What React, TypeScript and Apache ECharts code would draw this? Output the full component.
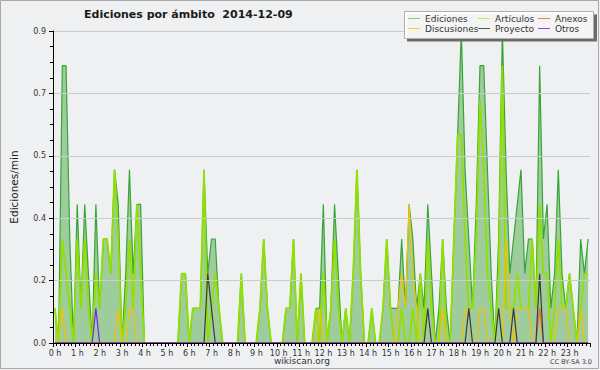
import React, { useEffect, useRef } from "react";
import * as echarts from "echarts";

// 10-minute bins, edits per minute
const EDICIONES = [
  0.1, 0, 0.8, 0.8, 0.3, 0, 0.4, 0.1, 0.4, 0.2, 0, 0.4,
  0.1, 0.3, 0.3, 0.2, 0.5, 0.4, 0, 0.2, 0.5, 0.2, 0.4, 0.4,
  0, 0, 0, 0, 0, 0, 0, 0, 0, 0, 0.2, 0.2,
  0, 0.1, 0.1, 0.1, 0.5, 0.2, 0.3, 0.3, 0.1, 0, 0, 0,
  0, 0, 0.2, 0, 0, 0, 0, 0.1, 0.3, 0.1, 0, 0,
  0, 0, 0.1, 0.1, 0.3, 0, 0.2, 0, 0, 0, 0.1, 0.1,
  0.4, 0, 0.1, 0.4, 0.2, 0, 0.1, 0, 0.2, 0.5, 0.2, 0,
  0, 0.1, 0, 0, 0.1, 0.3, 0.1, 0.1, 0.1, 0.3, 0.1, 0.4,
  0.3, 0.1, 0.2, 0.1, 0.4, 0.2, 0, 0.1, 0.3, 0.1, 0, 0.3,
  0.6, 0.9, 0.5, 0.3, 0.1, 0.4, 0.8, 0.8, 0.5, 0.2, 0, 0.3,
  0.9, 0.5, 0.2, 0.3, 0.4, 0.5, 0.2, 0.3, 0.3, 0.1, 0.8, 0.3,
  0.4, 0.1, 0.2, 0.5, 0.2, 0.1, 0.2, 0.1, 0, 0.3, 0.2, 0.3,
];

const ARTICULOS = [
  0.1, 0, 0.3, 0.2, 0.1, 0, 0.3, 0.1, 0.3, 0.1, 0, 0.2,
  0.1, 0.3, 0.3, 0.2, 0.5, 0.3, 0, 0.1, 0.3, 0.1, 0.4, 0.2,
  0, 0, 0, 0, 0, 0, 0, 0, 0, 0, 0.2, 0.2,
  0, 0.1, 0.1, 0.1, 0.5, 0, 0.1, 0.2, 0.1, 0, 0, 0,
  0, 0, 0.2, 0, 0, 0, 0, 0.1, 0.3, 0.1, 0, 0,
  0, 0, 0.1, 0.1, 0.3, 0, 0.2, 0, 0, 0, 0.1, 0,
  0.2, 0, 0.1, 0.3, 0.1, 0, 0.1, 0, 0.2, 0.5, 0.2, 0,
  0, 0.1, 0, 0, 0.1, 0.3, 0.1, 0, 0, 0.1, 0, 0,
  0.1, 0, 0.2, 0, 0.3, 0.1, 0, 0, 0.3, 0, 0, 0.3,
  0.6, 0.6, 0.3, 0.1, 0.1, 0.3, 0.7, 0.5, 0.2, 0.1, 0, 0.2,
  0.8, 0.1, 0.1, 0.1, 0.2, 0.1, 0.1, 0.1, 0.3, 0.1, 0.4, 0.2,
  0.2, 0, 0.1, 0.3, 0.1, 0.1, 0.2, 0.1, 0, 0.1, 0.2, 0.2,
];

const DISCUSIONES = [
  0, 0, 0.1, 0, 0, 0, 0, 0, 0, 0, 0, 0,
  0, 0, 0, 0, 0, 0.1, 0, 0, 0.1, 0.1, 0, 0,
  0, 0, 0, 0, 0, 0, 0, 0, 0, 0, 0, 0,
  0, 0, 0, 0, 0, 0, 0, 0, 0, 0, 0, 0,
  0, 0, 0, 0, 0, 0, 0, 0, 0, 0, 0, 0,
  0, 0, 0, 0, 0, 0, 0, 0, 0, 0, 0, 0.1,
  0, 0, 0, 0, 0, 0, 0, 0, 0, 0, 0, 0,
  0, 0, 0, 0, 0, 0, 0, 0, 0.1, 0.2, 0.1, 0.4,
  0.2, 0.1, 0, 0, 0, 0, 0, 0, 0.1, 0, 0, 0,
  0, 0, 0.1, 0.1, 0, 0, 0.1, 0.1, 0, 0, 0, 0,
  0, 0.3, 0.1, 0, 0.1, 0.1, 0.1, 0.1, 0, 0, 0, 0,
  0, 0, 0, 0.1, 0.1, 0.1, 0, 0, 0, 0.1, 0, 0,
];

const PROYECTO = [
  0, 0, 0, 0, 0, 0, 0, 0, 0, 0, 0, 0,
  0, 0, 0, 0, 0, 0, 0, 0, 0, 0, 0, 0,
  0, 0, 0, 0, 0, 0, 0, 0, 0, 0, 0, 0,
  0, 0, 0, 0, 0, 0.2, 0.1, 0, 0, 0, 0, 0,
  0, 0, 0, 0, 0, 0, 0, 0, 0, 0, 0, 0,
  0, 0, 0, 0, 0, 0, 0, 0, 0, 0, 0, 0,
  0, 0, 0, 0, 0, 0, 0, 0, 0, 0, 0, 0,
  0, 0, 0, 0, 0, 0, 0, 0, 0, 0, 0, 0,
  0, 0, 0, 0, 0.1, 0, 0, 0, 0, 0, 0, 0,
  0, 0, 0, 0.1, 0, 0, 0, 0, 0, 0, 0, 0.1,
  0, 0, 0, 0.1, 0, 0, 0, 0, 0, 0, 0.2, 0,
  0, 0, 0, 0, 0, 0, 0, 0, 0, 0, 0, 0,
];

const ANEXOS = [
  0, 0, 0, 0, 0, 0, 0, 0, 0, 0, 0, 0,
  0, 0, 0, 0, 0, 0, 0, 0, 0, 0, 0, 0,
  0, 0, 0, 0, 0, 0, 0, 0, 0, 0, 0, 0,
  0, 0, 0, 0, 0, 0, 0, 0, 0, 0, 0, 0,
  0, 0, 0, 0, 0, 0, 0, 0, 0, 0, 0, 0,
  0, 0, 0, 0, 0, 0, 0, 0, 0, 0, 0, 0,
  0, 0, 0, 0, 0, 0, 0, 0, 0, 0, 0, 0,
  0, 0, 0, 0, 0, 0, 0, 0, 0, 0, 0, 0,
  0, 0, 0, 0, 0, 0, 0, 0, 0, 0, 0, 0,
  0, 0, 0, 0, 0, 0, 0, 0, 0, 0, 0, 0,
  0, 0, 0, 0, 0, 0, 0, 0, 0, 0, 0.1, 0,
  0, 0, 0, 0, 0, 0, 0, 0, 0, 0, 0, 0,
];

const OTROS = [
  0, 0, 0, 0, 0, 0, 0, 0, 0, 0, 0, 0.1,
  0, 0, 0, 0, 0, 0, 0, 0, 0, 0, 0, 0,
  0, 0, 0, 0, 0, 0, 0, 0, 0, 0, 0, 0,
  0, 0, 0, 0, 0, 0, 0, 0, 0, 0, 0, 0,
  0, 0, 0, 0, 0, 0, 0, 0, 0, 0, 0, 0,
  0, 0, 0, 0, 0, 0, 0, 0, 0, 0, 0, 0,
  0, 0, 0, 0, 0, 0, 0, 0, 0, 0, 0, 0,
  0, 0, 0, 0, 0, 0, 0, 0, 0, 0, 0, 0,
  0, 0, 0, 0, 0, 0, 0, 0, 0, 0, 0, 0,
  0, 0, 0, 0, 0, 0, 0, 0, 0, 0, 0, 0,
  0, 0, 0, 0, 0, 0, 0, 0, 0, 0, 0, 0,
  0, 0, 0, 0, 0, 0, 0, 0, 0, 0, 0, 0,
];

const HOUR_LABELS = [
  "0 h", "1 h", "2 h", "3 h", "4 h", "5 h", "6 h", "7 h", "8 h", "9 h", "10 h", "11 h",
  "12 h", "13 h", "14 h", "15 h", "16 h", "17 h", "18 h", "19 h", "20 h", "21 h", "22 h", "23 h",
];

const TITLE = "Ediciones por ámbito  2014-12-09";
const FONT = "'DejaVu Sans', 'Liberation Sans', sans-serif";

// legend entries: name, legend colour, column left, row top
const LEGEND = [
  { name: "Ediciones", color: "#7fcf7f", left: 408, top: 14 },
  { name: "Artículos", color: "#c4ee55", left: 478, top: 14 },
  { name: "Anexos", color: "#f08050", left: 538, top: 14 },
  { name: "Discusiones", color: "#f5cc40", left: 408, top: 24 },
  { name: "Proyecto", color: "#555555", left: 478, top: 24 },
  { name: "Otros", color: "#9040f0", left: 538, top: 24 },
];

export default function App() {
  const ref = useRef<HTMLDivElement>(null);
  useEffect(() => {
    if (!ref.current) return;
    const chart = echarts.init(ref.current, undefined, { renderer: "svg" });
    const toPoints = (arr: number[]) => arr.map((v, i) => [(i + 0.5) / 6, v]);
    const lineSeries = (name: string, arr: number[], color: string, width: number, extra: any = {}) => ({
      name,
      type: "line",
      data: toPoints(arr),
      symbol: "none",
      showSymbol: false,
      lineStyle: { color, width },
      itemStyle: { color },
      z: 2,
      ...extra,
    });
    chart.setOption({
      animation: false,
      backgroundColor: "#eff0f1",
      title: {
        text: TITLE,
        left: 84,
        top: 9,
        padding: 0,
        textStyle: { fontFamily: FONT, fontSize: 11, fontWeight: "bold", color: "#1a1a1a" },
      },
      legend: LEGEND.map((l) => ({
        data: [{ name: l.name, itemStyle: { color: l.color } }],
        left: l.left,
        top: l.top,
        padding: 0,
        itemWidth: 12,
        itemHeight: 1,
        icon: "rect",
        selectedMode: false,
        z: 20,
        textStyle: { fontFamily: FONT, fontSize: 9, color: "#333" },
      })),
      grid: { left: 46, right: 10, top: 31, bottom: 27, containLabel: false },
      xAxis: {
        type: "value",
        min: 0,
        max: 24,
        interval: 1,
        z: 5,
        axisLine: { lineStyle: { color: "#000", width: 1 } },
        axisTick: { show: true, length: 4, lineStyle: { color: "#000" } },
        minorTick: { show: true, splitNumber: 6, length: 3, lineStyle: { color: "#000" } },
        splitLine: { show: false },
        axisLabel: {
          margin: 6,
          fontFamily: FONT,
          fontSize: 8,
          color: "#333",
          padding: [0, 0, 0, 4],
          formatter: (v: number) => (v < HOUR_LABELS.length ? HOUR_LABELS[v] : ""),
        },
      },
      yAxis: {
        type: "value",
        min: 0,
        max: 0.9,
        interval: 0.18,
        z: 5,
        name: "Ediciones/min",
        nameLocation: "middle",
        nameGap: 34,
        nameTextStyle: { fontFamily: FONT, fontSize: 10.5, color: "#222" },
        axisLine: { show: true, lineStyle: { color: "#000", width: 1 } },
        axisTick: { show: true, length: 4, lineStyle: { color: "#000" } },
        minorTick: { show: true, splitNumber: 4, length: 3, lineStyle: { color: "#000" } },
        splitLine: { show: true, lineStyle: { color: "#cbcccd", width: 1 } },
        axisLabel: {
          margin: 7,
          fontFamily: FONT,
          fontSize: 8,
          color: "#333",
          formatter: (v: number) => v.toFixed(1),
        },
      },
      series: [
        lineSeries("Ediciones", EDICIONES, "#35a535", 1.2, {
          areaStyle: { color: "#9fcc9c", opacity: 1 },
        }),
        lineSeries("Artículos", ARTICULOS, "#92e000", 1.8),
        lineSeries("Discusiones", DISCUSIONES, "#f2c200", 1.2),
        lineSeries("Anexos", ANEXOS, "#f06a20", 1.2),
        lineSeries("Proyecto", PROYECTO, "#3a3a3a", 1.2),
        lineSeries("Otros", OTROS, "#7a20f0", 1.2),
      ],
      graphic: [
        {
          type: "rect",
          z: 1,
          silent: true,
          shape: { x: 0.5, y: 0.5, width: 598, height: 368 },
          style: { fill: "none", stroke: "#a8a8a8", lineWidth: 1 },
        },
        {
          type: "rect",
          z: 10,
          silent: true,
          shape: { x: 407, y: 14.5, width: 190, height: 27 },
          style: { fill: "#6a6a6a" },
        },
        {
          type: "rect",
          z: 11,
          silent: true,
          shape: { x: 404.5, y: 11.5, width: 189, height: 27 },
          style: { fill: "rgba(255,255,255,0.93)", stroke: "#b0b0b0", lineWidth: 1 },
        },
        {
          type: "text",
          z: 12,
          silent: true,
          x: 302,
          y: 361,
          style: {
            text: "wikiscan.org",
            fontFamily: FONT,
            fontSize: 9,
            fill: "#333",
            align: "center",
            verticalAlign: "middle",
          },
        },
        {
          type: "text",
          z: 12,
          silent: true,
          x: 592,
          y: 362,
          style: {
            text: "CC BY-SA 3.0",
            fontFamily: FONT,
            fontSize: 6.5,
            fill: "#444",
            align: "right",
            verticalAlign: "middle",
          },
        },
      ],
    });
    return () => chart.dispose();
  }, []);
  return (
    <div
      ref={ref}
      style={{ position: "absolute", left: 0, top: 0, width: 600, height: 370 }}
    />
  );
}
